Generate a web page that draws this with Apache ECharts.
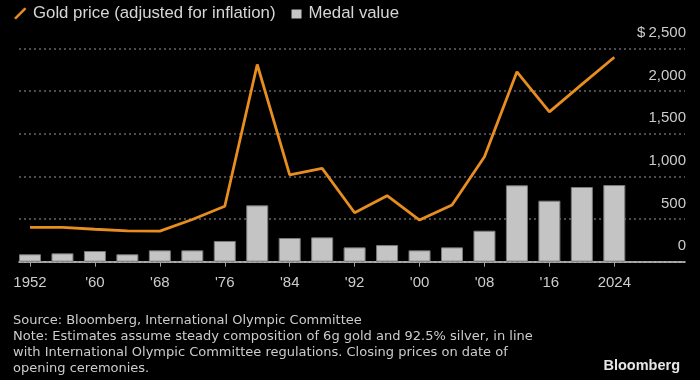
<!DOCTYPE html>
<html>
<head>
<meta charset="utf-8">
<script src="https://cdn.jsdelivr.net/npm/echarts@6/dist/echarts.min.js"></script>
<style>
html,body{margin:0;padding:0;background:#000;}
#chart{width:700px;height:380px;}
</style>
</head>
<body>
<div id="chart"></div>
<script>
// ---- data ----
const years = [1952, 1956, 1960, 1964, 1968, 1972, 1976, 1980, 1984, 1988, 1992, 1996, 2000, 2004, 2008, 2012, 2016, 2020, 2024];
const goldPrice = [403, 403, 380, 360, 358, 495, 650, 2310, 1016, 1094, 574, 773, 488, 664, 1230, 2225, 1755, 2078, 2395];
const medalValue = [87, 98, 125, 87, 133, 133, 243, 660, 278, 285, 168, 195, 133, 168, 363, 895, 715, 875, 898];
const xTickYears = [1952, 1960, 1968, 1976, 1984, 1992, 2000, 2008, 2016, 2024];
const yTicks = [0, 500, 1000, 1500, 2000, 2500];
const seriesNames = ['Gold price (adjusted for inflation)', 'Medal value'];
const footnote = [
  'Source: Bloomberg, International Olympic Committee',
  'Note: Estimates assume steady composition of 6g gold and 92.5% silver, in line',
  'with International Olympic Committee regulations. Closing prices on date of',
  'opening ceremonies.'
];
const brand = 'Bloomberg';

// ---- chart ----
const chart = echarts.init(document.getElementById('chart'), null, {renderer: 'canvas'});
const labelColor = '#cccccc';
const option = {
  backgroundColor: '#000000',
  animation: false,
  grid: {left: 19, right: 15, top: 48.3, bottom: 118.3, containLabel: false, outerBoundsMode: 'none'},
  legend: {
    left: 13, top: 5, padding: 0,
    itemWidth: 15, itemHeight: 12, itemGap: 13,
    textStyle: {color: '#d6d6d6', fontFamily: 'Liberation Sans', fontSize: 16.8},
    itemStyle: {borderWidth: 0},
    data: [
      {name: seriesNames[0], icon: 'path://M0,0M15,12M1,10.5L11.5,0L13.5,1.5L3,12Z', itemStyle: {color: '#e88d1f', borderWidth: 0}},
      {name: seriesNames[1], icon: 'path://M0,0M15,12M3,2L13,2L13,11L3,11Z', itemStyle: {color: '#c4c4c4', borderWidth: 0}}
    ]
  },
  title: {
    text: footnote.join('\n'),
    left: 13, top: 313, padding: 0,
    textStyle: {color: labelColor, fontFamily: 'DejaVu Sans', fontSize: 13, fontWeight: 'normal', lineHeight: 16}
  },
  graphic: [{
    type: 'text', right: 20, top: 358,
    style: {text: brand, fill: '#e6e6e6', font: 'bold 14.5px "Liberation Sans"'}
  }],
  xAxis: {
    type: 'value',
    min: 1950.644, max: 2032.71,
    axisLine: {show: true, lineStyle: {color: '#d0d0d0', width: 1.5}},
    axisTick: {show: true, customValues: xTickYears, length: 5, lineStyle: {color: '#a0a0a0', width: 1}},
    axisLabel: {
      customValues: xTickYears, margin: 14,
      color: labelColor, fontFamily: 'Liberation Sans', fontSize: 15,
      formatter: v => (v === xTickYears[0] || v === xTickYears[xTickYears.length - 1]) ? String(v) : "'" + String(v).slice(2)
    },
    splitLine: {show: false}
  },
  yAxis: {
    type: 'value', position: 'right',
    min: yTicks[0], max: yTicks[yTicks.length - 1], interval: 500,
    axisLine: {show: false}, axisTick: {show: false},
    axisLabel: {
      inside: true, margin: -1,
      color: labelColor, fontFamily: 'Liberation Sans', fontSize: 15,
      verticalAlign: 'bottom', lineHeight: 31,
      formatter: v => v === yTicks[yTicks.length - 1] ? '$\u2009' + v.toLocaleString('en-US') : v.toLocaleString('en-US')
    },
    splitLine: {show: true, lineStyle: {color: '#666666', width: 1.5, type: [2, 3]}}
  },
  series: [
    {
      name: seriesNames[1], type: 'bar', barWidth: 22, z: 2,
      itemStyle: {color: '#c4c4c4', borderColor: '#7a7a7a', borderWidth: 1},
      data: years.map((y, i) => [y, medalValue[i]])
    },
    {
      name: seriesNames[0], type: 'line', z: 3, symbol: 'none',
      lineStyle: {color: '#e88d1f', width: 2.8},
      itemStyle: {color: '#e88d1f'},
      data: years.map((y, i) => [y, goldPrice[i]])
    }
  ]
};
chart.setOption(option);
</script>
</body>
</html>
